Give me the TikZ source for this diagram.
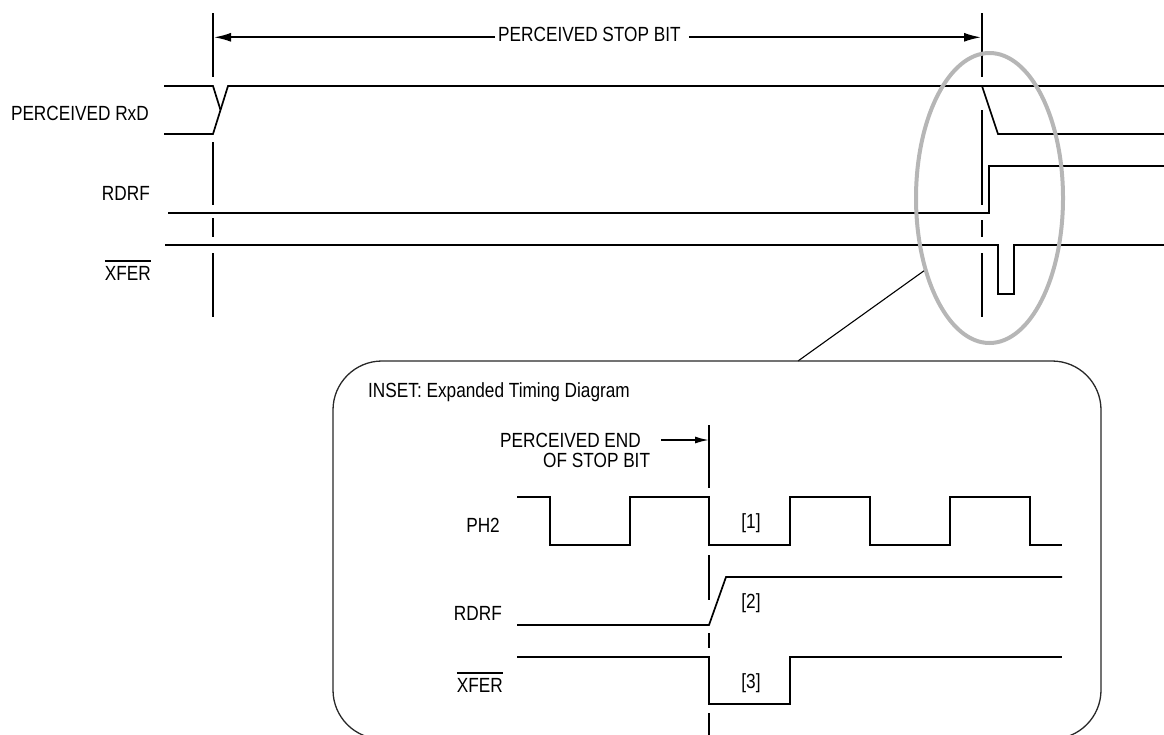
\documentclass[tikz,border=0pt]{standalone}
\usepackage{fontspec}
\setmainfont{Liberation Sans}[FakeStretch=0.84]
\usetikzlibrary{arrows.meta,shapes.geometric}
\definecolor{hl}{RGB}{182,182,182}
\definecolor{boxc}{RGB}{40,40,40}
\newcommand{\ovbar}[1]{\vbox{\hrule height 1.7pt\kern 4pt\hbox{#1}}}
\begin{document}
\begin{tikzpicture}[x=1pt,y=-1pt,
  sig/.style={line width=1.7pt, line join=miter},
  guide/.style={line width=1.7pt},
  lab/.style={font=\fontsize{20.5}{24}\selectfont, inner sep=0pt},
  arr/.style={line width=1.7pt, -{Latex[length=17pt,width=9pt]}},
  sarr/.style={line width=1.7pt, -{Latex[length=14pt,width=7pt]}},
  hilite/.style={line width=4pt, draw=hl},
  link/.style={line width=1.1pt},
  boxline/.style={line width=1.3pt, draw=boxc}]
\useasboundingbox (0,0) rectangle (1164,734);
\clip (0,0) rectangle (1164,734);

% ---------- upper diagram ----------
\node[lab, anchor=base east] (rxd) at (149,120) {PERCEIVED RxD};
\node[lab, anchor=base east] (rdrf) at (150,200.7) {RDRF};
\node[lab, anchor=base east] (xfer) at (151,280) {\ovbar{XFER}};
\node[lab, anchor=base west] (stop) at (498,41.7) {PERCEIVED STOP BIT};

% vertical guides
\draw[guide] (213,13)--(213,77) (213,142)--(213,205) (213,218)--(213,237) (213,253)--(213,317);
\draw[guide] (982,13)--(982,77) (982,110)--(982,205) (982,220)--(982,237) (982,253)--(982,317);

\coordinate (lt) at (214,37.3);
\coordinate (rt) at (981,37.3);
\draw[arr] ([xshift=-3pt]stop.west |- lt) -- (lt);
\draw[arr] ([xshift=8pt]stop.east |- rt) -- (rt);

% PERCEIVED RxD
\draw[sig] (164,86) -- (213,86) -- (220.5,110);
\draw[sig] (164,134) -- (213,134) -- (228,86) -- (1164,86);
\draw[sig] (982,86) -- (998,134) -- (1164,134);
% RDRF
\draw[sig] (168,213) -- (989,213) -- (989,166) -- (1164,166);
% XFER
\draw[sig] (165,245) -- (998,245) -- (998,294) -- (1014,294) -- (1014,245) -- (1164,245);

% highlight ellipse and link to inset
\node[hilite, ellipse, minimum width=147pt, minimum height=290pt, inner sep=0pt] (zoomarea) at (989.5,198) {};
\coordinate (b1) at (798,361);
\draw[link] (zoomarea.228) -- (b1);

% ---------- inset ----------
\draw[boxline, rounded corners=49pt] (333,361) rectangle (1101,739);
\node[lab, anchor=base west] (inset) at (368,397.7) {INSET: Expanded Timing Diagram};
\node[lab, anchor=base west] (pend) at (500,447) {PERCEIVED END};
\node[lab, anchor=base west] (ostop) at (543,467) {OF STOP BIT};
\coordinate (it) at (709,440);
\draw[sarr] ([xshift=20pt]pend.east |- it) -- (it);

\draw[guide] (709,425)--(709,488) (709,555)--(709,600) (709,633)--(709,648) (709,713)--(709,740);

\node[lab, anchor=base east] (ph2i) at (500,532) {PH2};
\node[lab, anchor=base east] (rdrfi) at (502,620) {RDRF};
\node[lab, anchor=base east] (xferi) at (503,692) {\ovbar{XFER}};
\node[lab, anchor=base] (n1) at (751,528) {[1]};
\node[lab, anchor=base] (n2) at (751,608) {[2]};
\node[lab, anchor=base] (n3) at (751,688) {[3]};

\draw[sig] (517,497)--(550,497)--(550,545)--(630,545)--(630,497)--(709,497)--(709,545)--(790,545)--(790,497)--(870,497)--(870,545)--(950,545)--(950,497)--(1030,497)--(1030,545)--(1062,545);
\draw[sig] (517,625)--(709,625)--(726,577)--(1062,577);
\draw[sig] (517,657)--(709,657)--(709,704)--(790,704)--(790,657)--(1062,657);
\end{tikzpicture}
\end{document}
